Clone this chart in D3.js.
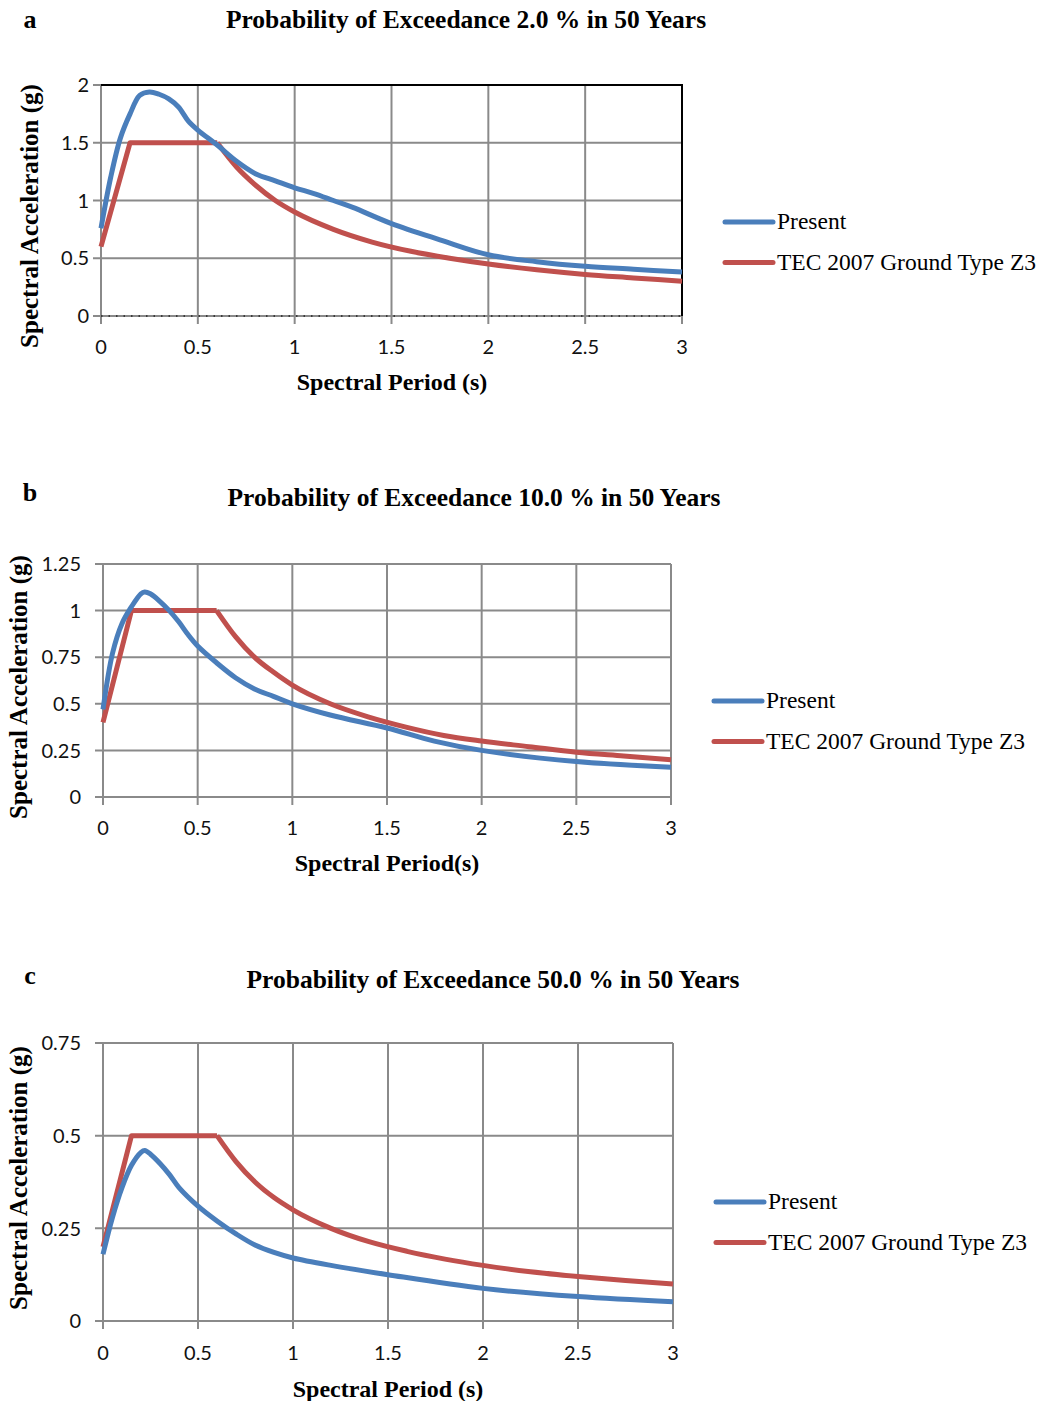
<!DOCTYPE html>
<html>
<head>
<meta charset="utf-8">
<script src="https://cdn.jsdelivr.net/npm/d3@7"></script>
<style>
  body { margin: 0; background: #fff; }
  svg { display: block; }
  .tick-lbl { font-family: Lato, "Open Sans", sans-serif; font-size: 20px; fill: #111; }
  .serif { font-family: "Liberation Serif", "Times New Roman", serif; fill: #000; }
</style>
</head>
<body>
<svg id="chart" width="1046" height="1401"></svg>
<script>
// series: [period (s), spectral acceleration (g)]
const presentA = [[0,0.76],[0.05,1.2],[0.1,1.54],[0.15,1.75],[0.2,1.91],[0.25,1.94],[0.3,1.92],[0.35,1.88],[0.4,1.81],[0.45,1.69],[0.5,1.61],[0.6,1.48],[0.7,1.34],[0.8,1.23],[0.9,1.17],[1.0,1.11],[1.1,1.06],[1.2,1.0],[1.3,0.94],[1.5,0.8],[1.75,0.66],[2.0,0.53],[2.25,0.47],[2.5,0.43],[2.75,0.405],[3.0,0.38]];
const tecA = [[0,0.6],[0.15,1.5],[0.6,1.5],[0.7,1.29],[0.8,1.13],[0.9,1.0],[1.0,0.9],[1.2,0.75],[1.4,0.64],[1.6,0.56],[1.8,0.5],[2.0,0.45],[2.25,0.4],[2.5,0.36],[2.75,0.33],[3.0,0.3]];

const presentB = [[0,0.47],[0.05,0.77],[0.1,0.93],[0.15,1.02],[0.2,1.09],[0.22,1.1],[0.25,1.09],[0.3,1.05],[0.35,1.0],[0.4,0.94],[0.45,0.87],[0.5,0.81],[0.6,0.72],[0.7,0.64],[0.8,0.58],[0.9,0.54],[1.0,0.5],[1.2,0.44],[1.5,0.37],[1.75,0.3],[2.0,0.25],[2.5,0.19],[3.0,0.16]];
const tecB = [[0,0.4],[0.15,1.0],[0.6,1.0],[0.7,0.86],[0.8,0.75],[0.9,0.67],[1.0,0.6],[1.2,0.5],[1.4,0.43],[1.6,0.375],[1.8,0.33],[2.0,0.3],[2.25,0.27],[2.5,0.24],[2.75,0.22],[3.0,0.2]];

const presentC = [[0,0.18],[0.05,0.28],[0.1,0.36],[0.15,0.42],[0.2,0.455],[0.22,0.46],[0.25,0.45],[0.3,0.425],[0.35,0.395],[0.4,0.36],[0.5,0.31],[0.6,0.27],[0.7,0.235],[0.8,0.205],[0.9,0.185],[1.0,0.17],[1.2,0.15],[1.5,0.125],[2.0,0.088],[2.5,0.066],[3.0,0.052]];
const tecC = [[0,0.2],[0.15,0.5],[0.6,0.5],[0.7,0.43],[0.8,0.375],[0.9,0.333],[1.0,0.3],[1.2,0.25],[1.4,0.214],[1.6,0.188],[1.8,0.167],[2.0,0.15],[2.25,0.133],[2.5,0.12],[2.75,0.109],[3.0,0.1]];

const xTicks = [0, 0.5, 1, 1.5, 2, 2.5, 3];
const yTicksA = [0, 0.5, 1, 1.5, 2];
const yTicksB = [0, 0.25, 0.5, 0.75, 1, 1.25];
const yTicksC = [0, 0.25, 0.5, 0.75];

const titles = [
  'Probability of Exceedance 2.0 % in 50 Years',
  'Probability of Exceedance 10.0 % in 50 Years',
  'Probability of Exceedance 50.0 % in 50 Years'
];
const xTitles = ['Spectral Period (s)', 'Spectral Period(s)', 'Spectral Period (s)'];
const seriesNames = ['Present', 'TEC 2007 Ground Type Z3'];

const BLUE = '#4a7ebb', RED = '#c0504d', GRID = '#8a8a8a';

const svg = d3.select('#chart');

const panels = [
  { letter: 'a', title: titles[0], xTitle: xTitles[0], present: presentA, tec: tecA, yTicks: yTicksA,
    x0: 101, x1: 682, y0: 85, y1: 316, titleX: 466, titleY: 28, letterY: 28,
    labelGap: 12, xLabelY: 354, xTitleX: 392, xTitleY: 390, yTitleX: 38, yTitleY: 216,
    legX: 725, legY: 222, frame: true },
  { letter: 'b', title: titles[1], xTitle: xTitles[1], present: presentB, tec: tecB, yTicks: yTicksB,
    x0: 103, x1: 671, y0: 564, y1: 797, titleX: 474, titleY: 506, letterY: 501,
    labelGap: 22, xLabelY: 835, xTitleX: 387, xTitleY: 871, yTitleX: 27, yTitleY: 687,
    legX: 714, legY: 701, frame: false },
  { letter: 'c', title: titles[2], xTitle: xTitles[2], present: presentC, tec: tecC, yTicks: yTicksC,
    x0: 103, x1: 673, y0: 1043, y1: 1321, titleX: 493, titleY: 988, letterY: 984,
    labelGap: 22, xLabelY: 1360, xTitleX: 388, xTitleY: 1397, yTitleX: 27, yTitleY: 1178,
    legX: 716, legY: 1202, frame: false }
];

panels.forEach(drawPanel);

function drawPanel(p) {
  const x = d3.scaleLinear().domain([0, 3]).range([p.x0, p.x1]);
  const y = d3.scaleLinear().domain([0, d3.max(p.yTicks)]).range([p.y1, p.y0]);
  const g = svg.append('g');

  // titles
  g.append('text').attr('class', 'serif')
    .attr('x', 30).attr('y', p.letterY)
    .attr('text-anchor', 'middle')
    .style('font-size', '26px').style('font-weight', 'bold')
    .text(p.letter);
  g.append('text').attr('class', 'serif')
    .attr('x', p.titleX).attr('y', p.titleY)
    .attr('text-anchor', 'middle')
    .style('font-size', '25.5px').style('font-weight', 'bold')
    .text(p.title);

  // grid
  g.append('g').selectAll('line')
    .data(p.yTicks)
    .join('line')
    .attr('x1', p.x0 - 8).attr('x2', p.x1)
    .attr('y1', d => y(d)).attr('y2', d => y(d))
    .attr('stroke', GRID).attr('stroke-width', 2);
  g.append('g').selectAll('line')
    .data(xTicks)
    .join('line')
    .attr('x1', d => x(d)).attr('x2', d => x(d))
    .attr('y1', p.y0).attr('y2', p.y1 + 8)
    .attr('stroke', GRID).attr('stroke-width', 2);

  if (p.frame) {
    g.append('path')
      .attr('d', `M${p.x0},${p.y0}H${p.x1}V${p.y1}`)
      .attr('fill', 'none').attr('stroke', '#000').attr('stroke-width', 2);
    g.append('line')
      .attr('x1', p.x0).attr('x2', p.x1)
      .attr('y1', p.y1).attr('y2', p.y1)
      .attr('stroke', '#222').attr('stroke-width', 1.5)
      .attr('stroke-dasharray', '1.5,6');
  }

  // tick labels
  g.append('g').selectAll('text')
    .data(p.yTicks)
    .join('text')
    .attr('class', 'tick-lbl')
    .attr('x', p.x0 - p.labelGap).attr('y', d => y(d))
    .attr('dy', '0.36em')
    .attr('text-anchor', 'end')
    .text(d => d);
  g.append('g').selectAll('text')
    .data(xTicks)
    .join('text')
    .attr('class', 'tick-lbl')
    .attr('x', d => x(d)).attr('y', p.xLabelY)
    .attr('text-anchor', 'middle')
    .text(d => d);

  // axis titles
  g.append('text').attr('class', 'serif')
    .attr('transform', `translate(${p.yTitleX},${p.yTitleY}) rotate(-90)`)
    .attr('text-anchor', 'middle')
    .style('font-size', '25px').style('font-weight', 'bold')
    .text('Spectral Acceleration (g)');
  g.append('text').attr('class', 'serif')
    .attr('x', p.xTitleX).attr('y', p.xTitleY)
    .attr('text-anchor', 'middle')
    .style('font-size', '24px').style('font-weight', 'bold')
    .text(p.xTitle);

  // series
  const smooth = d3.line().x(d => x(d[0])).y(d => y(d[1])).curve(d3.curveCatmullRom.alpha(0.5));
  const decay = d3.line().x(d => x(d[0])).y(d => y(d[1])).curve(d3.curveMonotoneX);
  const straight = d3.line().x(d => x(d[0])).y(d => y(d[1]));

  const kink = p.tec.findIndex(d => d[0] === 0.6);
  g.append('path')
    .attr('d', straight(p.tec.slice(0, kink + 1)) + decay(p.tec.slice(kink)))
    .attr('fill', 'none').attr('stroke', RED).attr('stroke-width', 5)
    .attr('stroke-linejoin', 'round');
  g.append('path')
    .attr('d', smooth(p.present))
    .attr('fill', 'none').attr('stroke', BLUE).attr('stroke-width', 5)
    .attr('stroke-linejoin', 'round');

  // legend
  const leg = g.append('g').selectAll('g')
    .data(seriesNames)
    .join('g')
    .attr('transform', (d, i) => `translate(${p.legX},${p.legY + i * 40.5})`);
  leg.append('line')
    .attr('x1', 0).attr('x2', 48)
    .attr('stroke', (d, i) => i === 0 ? BLUE : RED)
    .attr('stroke-width', 5).attr('stroke-linecap', 'round');
  leg.append('text').attr('class', 'serif')
    .attr('x', 52).attr('y', 7)
    .style('font-size', '23.5px')
    .text(d => d);
}
</script>
</body>
</html>
